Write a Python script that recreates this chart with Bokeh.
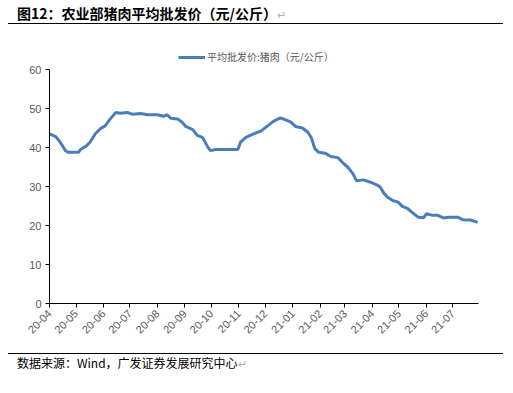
import pandas as pd
from bokeh.plotting import figure
from bokeh.models import (ColumnDataSource, Legend, LegendItem, FixedTicker, Range1d, Div)
from bokeh.layouts import column
from bokeh.embed import file_html
from bokeh.resources import INLINE
import math

# ---------------- data ----------------
dates = ["2020-04-01", "2020-04-08", "2020-04-13", "2020-04-19", "2020-04-22",
         "2020-05-04", "2020-05-06", "2020-05-12", "2020-05-17", "2020-05-23",
         "2020-05-29", "2020-06-03", "2020-06-09", "2020-06-15", "2020-06-20",
         "2020-06-28", "2020-07-04", "2020-07-13", "2020-07-21", "2020-08-01",
         "2020-08-08", "2020-08-12", "2020-08-16", "2020-08-24", "2020-08-29",
         "2020-09-02", "2020-09-10", "2020-09-15", "2020-09-21", "2020-09-27",
         "2020-09-30", "2020-10-06", "2020-10-26", "2020-10-31", "2020-11-03",
         "2020-11-09", "2020-11-14", "2020-11-22", "2020-11-26", "2020-12-04",
         "2020-12-10", "2020-12-18", "2020-12-24", "2020-12-30", "2021-01-04",
         "2021-01-12", "2021-01-18", "2021-01-22", "2021-01-26", "2021-01-30",
         "2021-02-07", "2021-02-13", "2021-02-21", "2021-02-26", "2021-03-04",
         "2021-03-10", "2021-03-14", "2021-03-22", "2021-03-30", "2021-04-07",
         "2021-04-10", "2021-04-14", "2021-04-18", "2021-04-24", "2021-04-30",
         "2021-05-05", "2021-05-11", "2021-05-18", "2021-05-23", "2021-05-29",
         "2021-06-01", "2021-06-08", "2021-06-14", "2021-06-21", "2021-06-26",
         "2021-07-07", "2021-07-12", "2021-07-21", "2021-07-29"]
pork_price = [43.5, 42.8, 41.4, 39.2, 38.8,
              38.8, 39.5, 40.3, 41.4, 43.6,
              44.9, 45.6, 47.4, 49.0, 48.8,
              49.0, 48.5, 48.7, 48.4, 48.4,
              48.0, 48.4, 47.5, 47.3, 46.5,
              45.4, 44.6, 43.1, 42.6, 40.1,
              39.2, 39.5, 39.5, 39.5, 41.4,
              42.6, 43.1, 43.9, 44.2, 45.6,
              46.7, 47.6, 47.1, 46.5, 45.4,
              45.0, 43.9, 42.5, 39.7, 38.8,
              38.5, 37.7, 37.4, 36.2, 35.0,
              33.3, 31.5, 31.7, 31.1, 30.3,
              29.8, 28.3, 27.3, 26.4, 26.0,
              24.9, 24.3, 23.0, 22.1, 22.0,
              23.0, 22.6, 22.6, 21.9, 22.1,
              22.1, 21.5, 21.4, 20.8]
tick_labels = ["20-04", "20-05", "20-06", "20-07", "20-08", "20-09", "20-10", "20-11",
               "20-12", "21-01", "21-02", "21-03", "21-04", "21-05", "21-06", "21-07"]
y_ticks = [0, 10, 20, 30, 40, 50, 60]

title_text = "图12：农业部猪肉平均批发价（元/公斤）"
legend_text = "平均批发价:猪肉（元/公斤）"
source_text = "数据来源：Wind，广发证券发展研究中心"

# ---------------- build ----------------
start = pd.Timestamp("2020-04-01")
x_days = [(pd.Timestamp(d) - start).days for d in dates]
month_starts = pd.date_range(start, periods=len(tick_labels), freq="MS")
tick_pos = [(m - start).days for m in month_starts]

src = ColumnDataSource(dict(x=x_days, y=pork_price))

W = 505
FRAME_TOP_PAD = 45          # px between frame top and the "60" level
PLOT_H = 234                # px between 0 and 60
y_top = 60 + FRAME_TOP_PAD * 60 / PLOT_H

p = figure(width=W, height=329, output_backend="svg", toolbar_location=None,
           x_range=Range1d(0, 485), y_range=Range1d(0, y_top),
           min_border_left=49, min_border_right=27, min_border_top=0, min_border_bottom=50)
p.outline_line_color = None
p.grid.visible = False
p.background_fill_color = "white"
p.border_fill_color = "white"

line = p.line("x", "y", source=src, line_color="#4A7EBB", line_width=3)

AX_FONT = "Liberation Sans"
p.yaxis.ticker = FixedTicker(ticks=y_ticks)
p.yaxis.bounds = (0, 60)
p.xaxis.ticker = FixedTicker(ticks=tick_pos)
p.xaxis.major_label_overrides = {t: l for t, l in zip(tick_pos, tick_labels)}
p.xaxis.major_label_orientation = math.pi / 4
for ax in (p.xaxis, p.yaxis):
    ax.axis_line_color = "black"
    ax.axis_line_width = 1
    ax.major_tick_line_color = "black"
    ax.minor_tick_line_color = None
    ax.major_tick_in = 0
    ax.major_tick_out = 4
    ax.major_label_text_font = AX_FONT
    ax.major_label_text_font_size = "11px"
    ax.major_label_text_color = "#595959"
    ax.major_label_standoff = 4

legend = Legend(items=[LegendItem(label=legend_text, renderers=[line])],
                orientation="horizontal", location=(129, 239),
                label_text_font="Noto Sans CJK SC", label_text_font_size="10px",
                label_text_color="#595959", glyph_width=27, glyph_height=10,
                border_line_color=None, background_fill_alpha=0,
                padding=2, margin=0, label_standoff=2)
p.add_layout(legend, "center")

arrow = "<span style='color:#b0b0b0;font-weight:normal;font-size:11px'>&#8629;</span>"
title_div = Div(text=title_text + arrow, width=495, height=24, margin=(0, 0, 0, 8),
                styles={"font-family": "Noto Sans CJK SC", "font-weight": "bold",
                        "font-size": "14px", "line-height": "16px", "color": "black",
                        "padding-left": "9px", "padding-top": "5px",
                        "border-bottom": "1px solid black",
                        "box-sizing": "border-box", "width": "495px", "height": "24px"})
source_div = Div(text=source_text + arrow, width=495, height=24, margin=(0, 0, 0, 8),
                 styles={"font-family": "Noto Sans CJK SC", "font-size": "12px",
                         "line-height": "16px", "color": "black",
                         "padding-left": "9px", "padding-top": "1px",
                         "border-top": "1px solid black",
                         "box-sizing": "border-box", "width": "495px", "height": "24px"})

layout = column(title_div, p, source_div, spacing=0)
open("out.html", "w").write(file_html(layout, INLINE))
